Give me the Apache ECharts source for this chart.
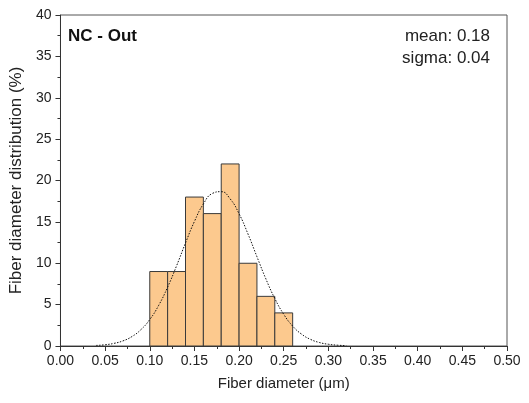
<!DOCTYPE html>
<html><head><meta charset="utf-8">
<script src="https://cdn.jsdelivr.net/npm/echarts@6/dist/echarts.min.js"></script>
<style>html,body{margin:0;padding:0;background:#fff}#c{width:529px;height:403px}</style>
</head><body><div id="c"></div>
<script>
const binStarts = [0.10, 0.12, 0.14, 0.16, 0.18, 0.20, 0.22, 0.24];
const binEnds   = [0.12, 0.14, 0.16, 0.18, 0.20, 0.22, 0.24, 0.26];
const binValues = [9, 9, 18, 16, 22, 10, 6, 4];
const fitX = [0.04,0.05,0.06,0.07,0.08,0.09,0.10,0.11,0.12,0.13,0.14,0.15,0.16,0.17,0.18,0.19,0.20,0.21,0.22,0.23,0.24,0.25,0.26,0.27,0.28,0.29,0.30,0.31,0.32];
const fitY = [0.07,0.15,0.32,0.62,1.14,1.97,3.20,4.92,7.12,9.69,12.45,15.05,17.16,18.43,18.65,17.78,15.98,13.53,10.79,8.11,5.74,3.83,2.41,1.43,0.80,0.42,0.21,0.10,0.04];
const xTickLabels = ['0.00','0.05','0.10','0.15','0.20','0.25','0.30','0.35','0.40','0.45','0.50'];
const titleText = 'NC - Out';
const statLines = ['mean: 0.18', 'sigma: 0.04'];

const chart = echarts.init(document.getElementById('c'), null, {renderer:'canvas'});
const FONT = 'Liberation Sans, Arial, sans-serif';
const axisCol = '#333';
chart.setOption({
  animation: false,
  backgroundColor: '#fff',
  grid: {left: 59, right: 22, top: 15, bottom: 57, show: true, borderColor: '#555', borderWidth: 1},
  xAxis: {
    type: 'value', min: 0, max: 0.5, interval: 0.05,
    name: 'Fiber diameter (μm)', nameLocation: 'middle', nameGap: 30,
    nameTextStyle: {fontFamily: FONT, fontSize: 15, color: '#222'},
    axisLine: {show: true, lineStyle: {color: axisCol, width: 1}},
    axisTick: {show: true, inside: false, length: 5, lineStyle: {color: axisCol}},
    minorTick: {show: true, splitNumber: 2, length: 3, lineStyle: {color: axisCol}},
    splitLine: {show: false},
    axisLabel: {fontFamily: FONT, fontSize: 14, color: '#222', margin: 8,
      formatter: v => xTickLabels[Math.round(v / 0.05)] }
  },
  yAxis: {
    type: 'value', min: 0, max: 40, interval: 5,
    name: 'Fiber diameter distribution (%)', nameLocation: 'middle', nameGap: 29,
    nameTextStyle: {fontFamily: FONT, fontSize: 17, color: '#222'},
    axisLine: {show: true, lineStyle: {color: axisCol, width: 1}},
    axisTick: {show: true, inside: false, length: 5, lineStyle: {color: axisCol}},
    minorTick: {show: true, splitNumber: 2, length: 3, lineStyle: {color: axisCol}},
    splitLine: {show: false},
    axisLabel: {fontFamily: FONT, fontSize: 14, color: '#222', margin: 9}
  },
  series: [
    {
      type: 'custom',
      data: binStarts.map((s, i) => [s, binEnds[i], binValues[i]]),
      renderItem: function (params, api) {
        const p0 = api.coord([api.value(0), api.value(2)]);
        const p1 = api.coord([api.value(1), 0]);
        return {
          type: 'rect',
          shape: {x: p0[0], y: p0[1], width: p1[0] - p0[0], height: p1[1] - p0[1]},
          style: {fill: '#FCC98E', stroke: '#3a3a3a', lineWidth: 1}
        };
      },
      z: 2
    },
    {
      type: 'line',
      data: fitX.map((x, i) => [x, fitY[i]]),
      smooth: true,
      showSymbol: false,
      lineStyle: {color: '#111', width: 1, type: [1.5, 1.5]},
      z: 3
    }
  ],
  graphic: [
    {type: 'text', x: 68, y: 36, style: {text: titleText, fontFamily: FONT, fontSize: 17, fontWeight: 'bold', fill: '#111', verticalAlign: 'middle'}},
    {type: 'text', x: 490, y: 36, style: {text: statLines[0], fontFamily: FONT, fontSize: 17, fill: '#222', align: 'right', verticalAlign: 'middle'}},
    {type: 'text', x: 490, y: 58, style: {text: statLines[1], fontFamily: FONT, fontSize: 17, fill: '#222', align: 'right', verticalAlign: 'middle'}}
  ]
});
</script></body></html>
